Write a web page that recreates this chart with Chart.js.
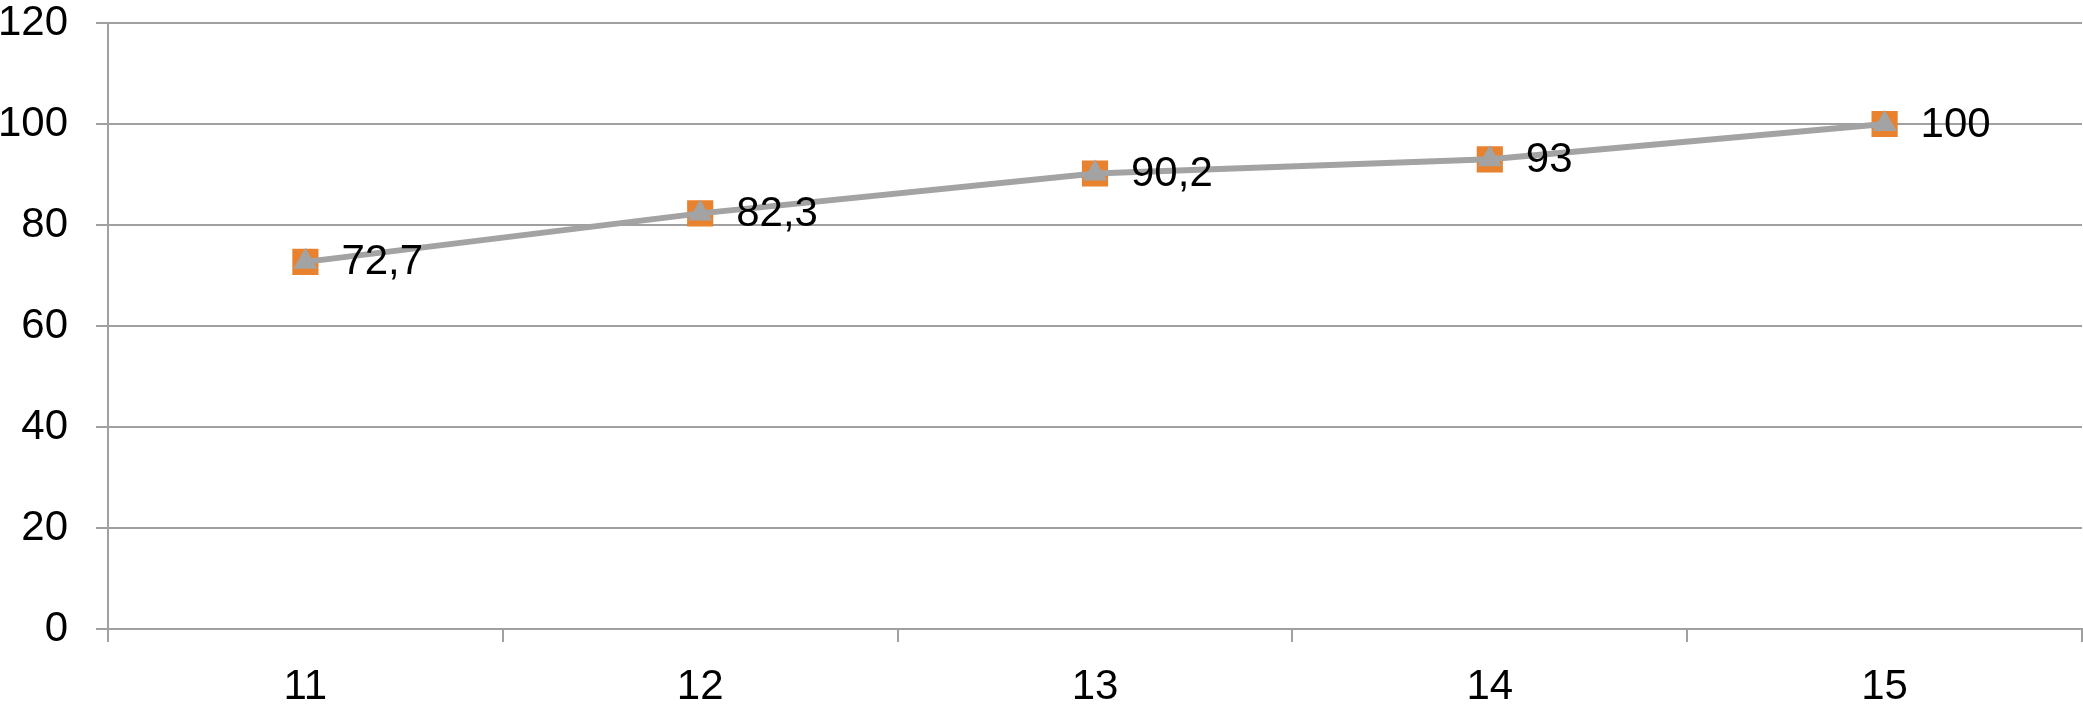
<!DOCTYPE html>
<html>
<head>
<meta charset="utf-8">
<script src="https://cdn.jsdelivr.net/npm/chart.js@4/dist/chart.umd.min.js"></script>
<style>
  html, body { margin: 0; padding: 0; background: #fff; overflow: hidden; }
</style>
</head>
<body>
<canvas id="chart" width="2083" height="709"></canvas>
<script>
const categories = ["11", "12", "13", "14", "15"]
const squareValues = [72.7, 82.3, 90.2, 93, 100]
const triangleValues = [72.7, 82.3, 90.2, 93, 100]
const yTicks = [0, 20, 40, 60, 80, 100, 120]

const gridColor = "#a0a0a0"
const fontFamily = "'Liberation Sans', Arial, Helvetica, sans-serif"

// draws the value labels to the right of each point (comma decimals)
const valueLabels = {
  id: "valueLabels",
  afterDatasetsDraw(chart) {
    const ctx = chart.ctx
    const meta = chart.getDatasetMeta(0)
    ctx.save()
    ctx.font = "42px " + fontFamily
    ctx.fillStyle = "#000"
    ctx.textAlign = "left"
    ctx.textBaseline = "middle"
    meta.data.forEach((pt, i) => {
      const txt = String(chart.data.datasets[0].data[i]).replace(".", ",")
      ctx.fillText(txt, pt.x + 36, pt.y + 1)
    })
    ctx.restore()
  }
}

const chart = new Chart(document.getElementById("chart"), {
  type: "line",
  data: {
    labels: categories,
    datasets: [
      {
        label: "B",
        data: triangleValues,
        borderColor: "#a3a3a3",
        backgroundColor: "#a3a3a3",
        borderWidth: 6,
        pointStyle: "triangle",
        pointRadius: 14,
        pointBorderWidth: 0,
        pointBackgroundColor: "#a3a3a3"
      },
      {
        label: "A",
        data: squareValues,
        borderColor: "#e8822f",
        backgroundColor: "#e8822f",
        borderWidth: 4,
        pointStyle: "rect",
        pointRadius: 18.5,
        pointBorderWidth: 0,
        pointBackgroundColor: "#e8822f"
      }
    ]
  },
  options: {
    responsive: false,
    animation: false,
    devicePixelRatio: 1,
    layout: { autoPadding: false, padding: { top: 23, right: 1, left: 0, bottom: 0 } },
    plugins: {
      legend: { display: false },
      tooltip: { enabled: false }
    },
    scales: {
      x: {
        offset: true,
        grid: {
          offset: true,
          drawOnChartArea: false,
          drawTicks: true,
          tickLength: 13,
          color: gridColor,
          lineWidth: 2
        },
        border: { color: gridColor, width: 2 },
        ticks: {
          color: "#000",
          font: { family: fontFamily, size: 42 },
          padding: 20
        },
        afterFit(scale) { scale.height = 80 }
      },
      y: {
        min: 0,
        max: 120,
        afterBuildTicks(scale) { scale.ticks = yTicks.map(v => ({ value: v })) },
        grid: {
          color: gridColor,
          lineWidth: 2,
          drawTicks: true,
          tickLength: 12
        },
        border: { color: gridColor, width: 2 },
        ticks: {
          color: "#000",
          font: { family: fontFamily, size: 42, lineHeight: 1 },
          padding: 28
        },
        afterFit(scale) {
          scale.width = 108
          scale.paddingTop = 0
          scale.paddingBottom = 0
        }
      }
    }
  },
  plugins: [valueLabels]
})
</script>
</body>
</html>
